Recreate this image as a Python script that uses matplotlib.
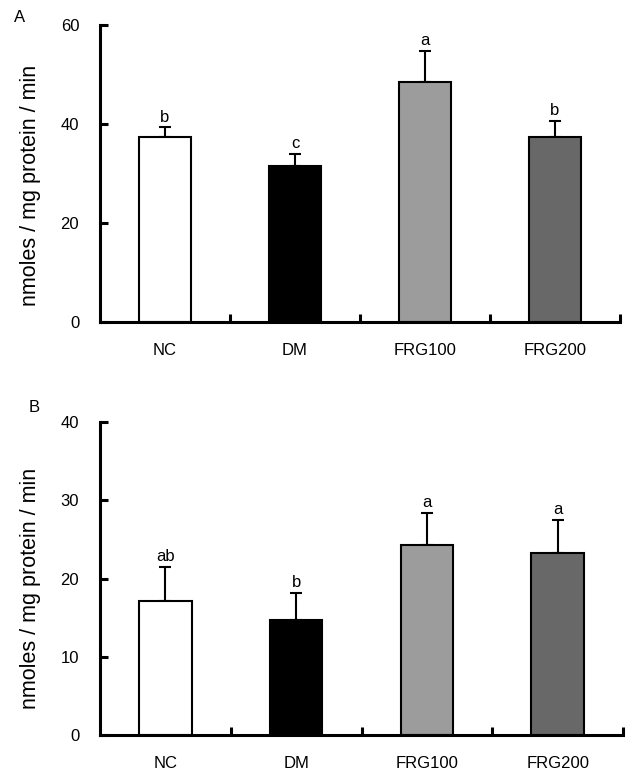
import matplotlib.pyplot as plt

plt.rcParams['font.family'] = ['Liberation Sans', 'DejaVu Sans']

groups = ['NC', 'DM', 'FRG100', 'FRG200']
colors = ['#ffffff', '#000000', '#9c9c9c', '#676867']

# panel A
mean_a = [37.3, 31.6, 48.4, 37.4]
err_a = [2.0, 2.4, 6.3, 3.2]
letters_a = ['b', 'c', 'a', 'b']

# panel B
mean_b = [17.2, 14.7, 24.3, 23.3]
err_b = [4.3, 3.5, 4.1, 4.2]
letters_b = ['ab', 'b', 'a', 'a']

fig = plt.figure(figsize=(6.35, 7.8), dpi=100)
ax_a = fig.add_axes([100/635, 1 - 322/780, 520/635, 297/780])
ax_b = fig.add_axes([100/635, 1 - 735/780, 523/635, 312.7/780])


def draw(ax, means, errs, letters, ymax, ystep, panel, panel_xy, label_y):
    x = range(len(groups))
    ax.bar(x, means, width=0.4, color=colors, edgecolor='black', linewidth=1.5, zorder=2)
    ax.errorbar(x, means, yerr=[[0]*len(errs), errs], fmt='none', ecolor='black',
                elinewidth=1.5, capsize=4.5, capthick=1.5, zorder=1)
    for xi, m, e, t in zip(x, means, errs, letters):
        ax.annotate(t, (xi, m + e), xytext=(0, 2), textcoords='offset points',
                    ha='center', va='bottom', fontsize=12)
    ax.set_xlim(-0.5, 3.5)
    ax.set_ylim(0, ymax)
    ax.set_yticks(range(0, ymax + 1, ystep))
    ax.set_xticks([0.5, 1.5, 2.5, 3.5])
    ax.set_xticklabels([])
    for xi, g in zip(x, groups):
        ax.annotate(g, (xi, 0), xycoords=('data', 'axes fraction'), xytext=(0, -20.5),
                    textcoords='offset points', ha='center', va='center', fontsize=12)
    ax.spines['top'].set_visible(False)
    ax.spines['right'].set_visible(False)
    ax.spines['left'].set_linewidth(2.2)
    ax.spines['bottom'].set_linewidth(2.2)
    ax.tick_params(axis='both', direction='in', length=6, width=2.2, labelsize=12, pad=15)
    ax.set_ylabel('nmoles / mg protein / min', fontsize=15.5)
    ax.yaxis.set_label_coords(-0.113, label_y)
    fig.text(panel_xy[0]/635, 1 - panel_xy[1]/780, panel, fontsize=12, ha='center', va='center')


draw(ax_a, mean_a, err_a, letters_a, 60, 20, 'A', (20, 17), 0.46)
draw(ax_b, mean_b, err_b, letters_b, 40, 10, 'B', (34, 407), 0.47)

fig.savefig('out.png', dpi=100)
